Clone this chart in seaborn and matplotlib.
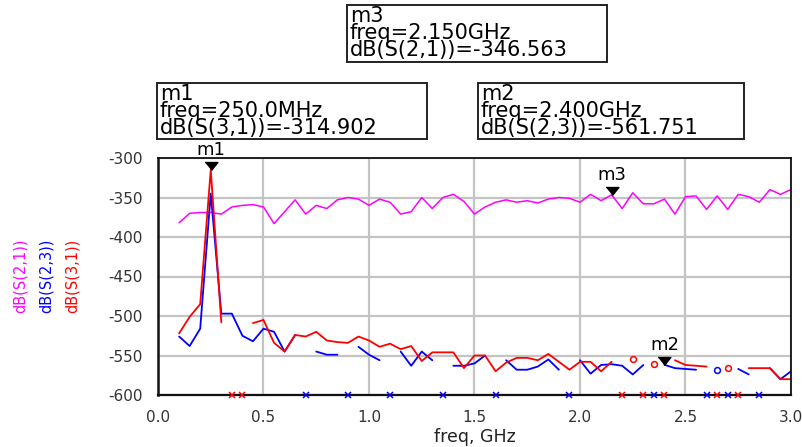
import numpy as np
import pandas as pd
import matplotlib
matplotlib.use("Agg")
import matplotlib.pyplot as plt
from matplotlib.patches import Rectangle
from matplotlib.ticker import MultipleLocator, FormatStrFormatter
import seaborn as sns

# ---------------- data ----------------
freq = [0.10, 0.15, 0.20, 0.25, 0.30, 0.35, 0.40, 0.45, 0.50, 0.55,
        0.60, 0.65, 0.70, 0.75, 0.80, 0.85, 0.90, 0.95, 1.00, 1.05,
        1.10, 1.15, 1.20, 1.25, 1.30, 1.35, 1.40, 1.45, 1.50, 1.55,
        1.60, 1.65, 1.70, 1.75, 1.80, 1.85, 1.90, 1.95, 2.00, 2.05,
        2.10, 2.15, 2.20, 2.25, 2.30, 2.35, 2.40, 2.45, 2.50, 2.55,
        2.60, 2.65, 2.70, 2.75, 2.80, 2.85, 2.90, 2.95, 3.00]
nan = np.nan
s21 = [-382, -370, -369, -369, -371, -362, -360, -359, -362, -383,
       -368, -353, -371, -360, -364, -353, -350, -352, -360, -352,
       -356, -371, -368, -350, -364, -350, -346, -355, -371, -362,
       -356, -353, -356, -354, -357, -352, -350, -351, -356, -346,
       -354, -346.563, -364, -344, -358, -358, -352, -371, -349, -348,
       -365, -348, -365, -346, -349, -356, -340, -346, -340]
s23 = [-526, -538, -516, -345, -497, -497, -525, -532, -516, -520,
       -545, -524, nan, -545, -549, -549, nan, -539, -549, -556,
       nan, -545, -563, -545, -556, nan, -563, -563, -560, -550,
       nan, -556, -568, -568, -564, -555, -568, nan, -556, -573,
       -562, -561, -563, -574, -562, nan, -561.751, -566, -567, -568,
       nan, -568, nan, -567, -574, nan, -566, -580, -570]
s31 = [-522, -501, -485, -314.902, -508, nan, nan, -509, -505, -534,
       -545, -524, -526, -520, -531, -533, -534, -526, -531, -539,
       -535, -542, -538, -557, -546, -546, -546, -566, -550, -550,
       -570, -559, -553, -553, -556, -548, -558, -568, -558, -558,
       -570, -558, nan, -555, nan, -561, nan, -556, -562, -563,
       -564, nan, -566, nan, -566, -566, -566, -580, -580]

trace_names = ["dB(S(2,1))", "dB(S(2,3))", "dB(S(3,1))"]
trace_colors = ["#ff00ff", "#0000ff", "#ff0000"]

markers = [  # name, trace, freq, value
    ("m1", "dB(S(3,1))", 0.25, -314.902),
    ("m2", "dB(S(2,3))", 2.40, -561.751),
    ("m3", "dB(S(2,1))", 2.15, -346.563),
]
marker_boxes = {
    "m1": "m1\nfreq=250.0MHz\ndB(S(3,1))=-314.902",
    "m2": "m2\nfreq=2.400GHz\ndB(S(2,3))=-561.751",
    "m3": "m3\nfreq=2.150GHz\ndB(S(2,1))=-346.563",
}

# ---------------- build long table with contiguous segments ----------------
rows = []
series = {"dB(S(2,1))": s21, "dB(S(2,3))": s23, "dB(S(3,1))": s31}
for name, vals in series.items():
    seg = 0
    prev_nan = True
    for f, v in zip(freq, vals):
        if np.isnan(v):
            prev_nan = True
            continue
        if prev_nan:
            seg += 1
        prev_nan = False
        rows.append({"freq": f, "val": v, "trace": name, "seg": f"{name}_{seg}"})
df = pd.DataFrame(rows)

sns.set_style("white")
plt.rcParams["font.family"] = ["DejaVu Sans"]
plt.rcParams["axes.unicode_minus"] = False

W, H = 803, 447
fig = plt.figure(figsize=(W / 100, H / 100), dpi=100)
L, R, T, B = 158, 791, 158, 395
ax = fig.add_axes([L / W, 1 - B / H, (R - L) / W, (B - T) / H])

ax.set_xlim(0, 3.0)
ax.set_ylim(-600, -300)
ax.xaxis.set_major_locator(MultipleLocator(0.5))
ax.xaxis.set_minor_locator(MultipleLocator(0.1))
ax.yaxis.set_major_locator(MultipleLocator(50))
ax.yaxis.set_minor_locator(MultipleLocator(10))
ax.xaxis.set_major_formatter(FormatStrFormatter("%.1f"))
ax.grid(True, which="major", color="#c4c4c4", linewidth=1.6)
ax.set_axisbelow(True)

order = ["dB(S(2,1))", "dB(S(2,3))", "dB(S(3,1))"]
lws = {"dB(S(2,1))": 1.1, "dB(S(2,3))": 1.3, "dB(S(3,1))": 1.3}
for name, col in zip(order, trace_colors):
    sub = df[df["trace"] == name]
    sns.lineplot(data=sub, x="freq", y="val", units="seg", estimator=None,
                 color=col, linewidth=lws[name], sort=False, legend=False, ax=ax)

# invalid points -> 'x' on bottom border, isolated points -> circles
for name, col in zip(order, trace_colors):
    vals = np.array(series[name], dtype=float)
    fr = np.array(freq)
    bad = np.isnan(vals)
    if bad.any():
        ax.plot(fr[bad], np.full(bad.sum(), -600.0), linestyle="none", marker="x",
                color=col, markersize=5, markeredgewidth=1.1, clip_on=False, zorder=5)
    iso = []
    for i in range(len(vals)):
        if np.isnan(vals[i]):
            continue
        left = np.isnan(vals[i - 1]) if i > 0 else True
        right = np.isnan(vals[i + 1]) if i < len(vals) - 1 else True
        if left and right:
            iso.append(i)
    if iso:
        ax.plot(fr[iso], vals[iso], linestyle="none", marker="o", markersize=4.2,
                markerfacecolor="none", markeredgecolor=col, markeredgewidth=1.1, zorder=5)

ax.set_xlabel("")
ax.set_ylabel("")
for s in ax.spines.values():
    s.set_visible(True)
    s.set_color("#111111")
    s.set_linewidth(1.3)
ax.spines["left"].set_linewidth(1.8)
ax.spines["bottom"].set_linewidth(1.6)

ax.tick_params(axis="both", which="both", direction="out", colors="#111111",
               labelcolor="#333333", labelsize=11)
ax.tick_params(axis="y", which="major", length=8, width=1.2, pad=3)
ax.tick_params(axis="y", which="minor", length=4, width=1.0)
ax.tick_params(axis="x", which="major", length=5, width=1.2, pad=6)
ax.tick_params(axis="x", which="minor", length=5, width=1.0)

# markers (triangles with tip on the data point)
tri = [(-1.0, 1.25), (1.0, 1.25), (0.0, 0.0)]
for lab, tr, f, v in markers:
    ax.plot([f], [v], linestyle="none", marker=tri, markersize=11.5,
            color="black", zorder=6, clip_on=False)
    ax.annotate(lab, xy=(f, v), xytext=(0, 7.5), textcoords="offset points",
                ha="center", va="bottom", fontsize=13, color="black",
                annotation_clip=False, zorder=7)

# marker readout boxes (pixel positions: left, top, right, bottom)
box_px = {"m3": (347, 5, 607, 62), "m1": (157, 83, 427, 139), "m2": (478, 83, 744, 139)}
for key, (x0, y0, x1, y1) in box_px.items():
    fig.add_artist(Rectangle((x0 / W, 1 - y1 / H), (x1 - x0) / W, (y1 - y0) / H,
                             transform=fig.transFigure, fill=False,
                             edgecolor="#222222", linewidth=1.4))
    fig.text((x0 + 3) / W, 1 - (y0 + 1) / H, marker_boxes[key], ha="left", va="top",
             fontsize=15, linespacing=0.8, color="black")

# y-axis trace labels
for xpx, name, col in zip([20, 46, 72], order, trace_colors):
    fig.text(xpx / W, 1 - 276 / H, name, rotation=90, ha="center", va="center",
             fontsize=10.5, color=col)

fig.text(475 / W, 1 - 437 / H, "freq, GHz", ha="center", va="center",
         fontsize=12.5, color="#222222")

fig.savefig("out.png", dpi=100)
